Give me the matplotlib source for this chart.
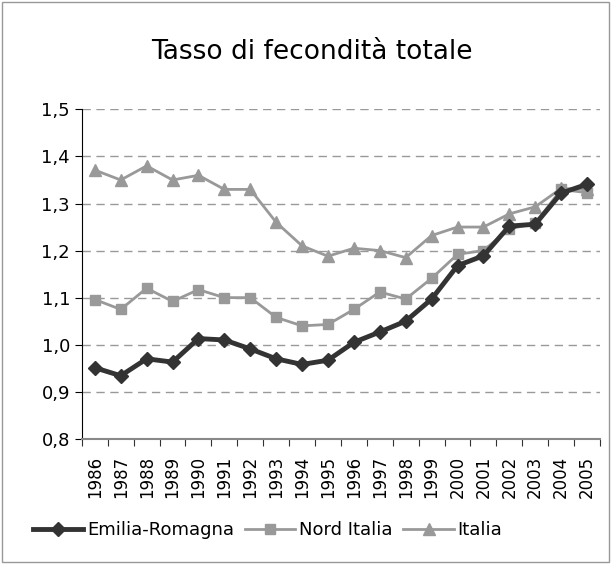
import matplotlib.pyplot as plt
from matplotlib.patches import Rectangle

years = [str(y) for y in range(1986, 2006)]
emilia = [0.951, 0.934, 0.970, 0.963, 1.013, 1.010, 0.991, 0.970, 0.958, 0.967,
          1.005, 1.027, 1.050, 1.097, 1.168, 1.189, 1.252, 1.256, 1.322, 1.341]
nord = [1.096, 1.075, 1.120, 1.092, 1.117, 1.100, 1.100, 1.058, 1.040, 1.043,
        1.075, 1.112, 1.097, 1.141, 1.192, 1.200, 1.246, 1.258, 1.330, 1.323]
italia = [1.371, 1.350, 1.380, 1.350, 1.360, 1.330, 1.330, 1.260, 1.210, 1.188,
          1.205, 1.200, 1.185, 1.232, 1.250, 1.250, 1.278, 1.293, 1.332, 1.330]

fig = plt.figure(figsize=(6.11, 5.64), dpi=100)
ax = fig.add_axes([0.134, 0.222, 0.848, 0.584])

x = range(len(years))
ax.plot(x, italia, color="#999999", lw=2, marker="^", ms=8, label="Italia", zorder=3)
ax.plot(x, nord, color="#999999", lw=2, marker="s", ms=7, label="Nord Italia", zorder=4)
ax.plot(x, emilia, color="#333333", lw=3.5, marker="D", ms=7.5, label="Emilia-Romagna", zorder=5)

ax.set_ylim(0.8, 1.5)
ax.set_xlim(-0.5, len(years) - 0.5)
yt = [0.8, 0.9, 1.0, 1.1, 1.2, 1.3, 1.4, 1.5]
ax.set_yticks(yt)
ax.set_yticklabels([f"{v:.1f}".replace(".", ",") for v in yt], fontsize=13)
ax.yaxis.grid(True, ls=(0, (6, 4)), color="#999999", lw=1)
ax.set_axisbelow(True)

ax.set_xticks([i - 0.5 for i in range(len(years) + 1)])
ax.set_xticklabels([])
ax.set_xticks(list(x), minor=True)
ax.set_xticklabels(years, minor=True, rotation=90, fontsize=12)
ax.tick_params(axis="x", which="minor", length=0, pad=12)
ax.tick_params(axis="x", which="major", length=5, direction="out", color="#333333")
ax.tick_params(axis="y", length=5, direction="out")

for s in ["top", "right"]:
    ax.spines[s].set_visible(False)
ax.spines["bottom"].set_color("#888888")
ax.spines["bottom"].set_linewidth(1.5)

fig.text(0.51, 0.895, "Tasso di fecondità totale", ha="center", fontsize=19)

h, l = ax.get_legend_handles_labels()
fig.legend(h[::-1], l[::-1], loc="center", bbox_to_anchor=(0.438, 0.06), ncol=3,
           frameon=False, fontsize=13, handlelength=2.8, handletextpad=0.2,
           columnspacing=0.6)

fig.patches.append(Rectangle((0.003, 0.003), 0.994, 0.994, transform=fig.transFigure,
                             fill=False, edgecolor="#999999", lw=1))

fig.savefig("out.png", dpi=100)
